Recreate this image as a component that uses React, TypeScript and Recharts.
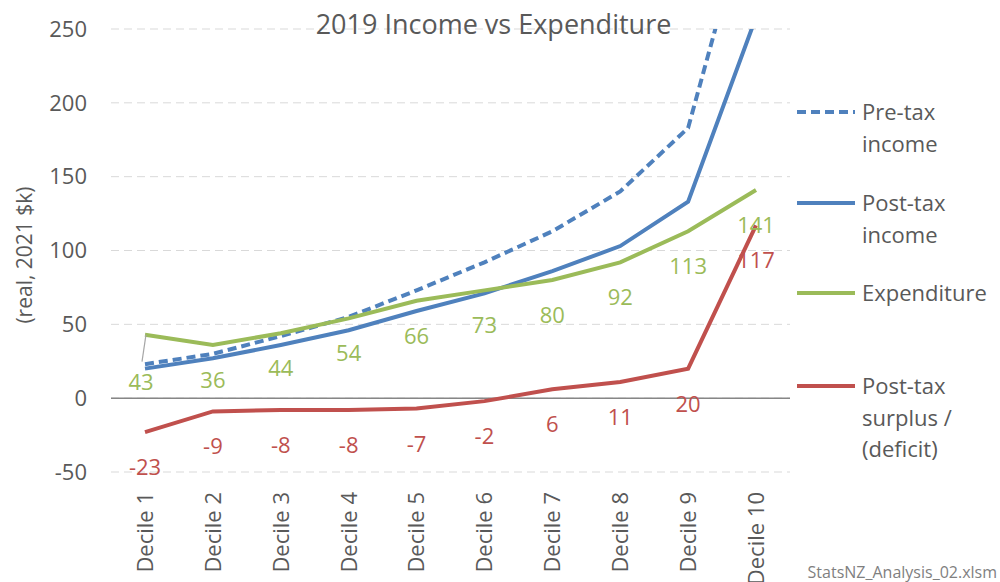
import React from 'react';
import { LineChart, Line, XAxis, YAxis, CartesianGrid, ReferenceLine, LabelList } from 'recharts';

const deciles = ['Decile 1', 'Decile 2', 'Decile 3', 'Decile 4', 'Decile 5', 'Decile 6', 'Decile 7', 'Decile 8', 'Decile 9', 'Decile 10'];
const preTaxIncome = [23, 30, 42, 55, 73, 92, 113, 140, 183, 350];
const postTaxIncome = [20, 27, 36, 46, 59, 71, 86, 103, 133, 258];
const expenditure = [43, 36, 44, 54, 66, 73, 80, 92, 113, 141];
const surplus = [-23, -9, -8, -8, -7, -2, 6, 11, 20, 117];
const yTicks = [-50, 0, 50, 100, 150, 200, 250];

const BLUE = '#4F81BD';
const GREEN = '#9BBB59';
const RED = '#C0504D';
const TEXT = '#595959';
const FONT = '"Open Sans", "Noto Sans", sans-serif';

const data = deciles.map((d, i) => ({
    decile: d,
    preTax: preTaxIncome[i],
    postTax: postTaxIncome[i],
    expenditure: expenditure[i],
    surplus: surplus[i],
}));

const XTick = (props: any) => {
    const { x, y, payload } = props;
    return (
        <text
            transform={`translate(${x},${y + 20}) rotate(-90)`}
            textAnchor="end"
            dy="0.36em"
            fill={TEXT}
            fontSize={22}
            fontFamily={FONT}
        >
            {payload.value}
        </text>
    );
};

const makeLabel = (color: string, leaderFirst: boolean) => (props: any) => {
    const { x, y, value, index } = props;
    const moved = leaderFirst && index === 0;
    return (
        <g>
            {moved && <line x1={x - 3} y1={y + 27} x2={x + 1} y2={y} stroke="#A6A6A6" strokeWidth={1.2} />}
            <text
                x={moved ? x - 4 : x}
                y={y + (moved ? 46 : 34)}
                textAnchor="middle"
                dominantBaseline="central"
                fill={color}
                fontSize={22}
                fontFamily={FONT}
            >
                {value}
            </text>
        </g>
    );
};

const legendItems = [
    { lines: ['Pre-tax', 'income'], color: BLUE, dashed: true, top: 112 },
    { lines: ['Post-tax', 'income'], color: BLUE, dashed: false, top: 203 },
    { lines: ['Expenditure'], color: GREEN, dashed: false, top: 293 },
    { lines: ['Post-tax', 'surplus /', '(deficit)'], color: RED, dashed: false, top: 386 },
];

export default function App() {
    return (
        <div style={{ position: 'absolute', left: 0, top: 0, width: 1000, height: 582, background: '#fff', fontFamily: FONT, overflow: 'hidden' }}>
            <LineChart width={1000} height={582} data={data} margin={{ top: 29, right: 210, bottom: 10, left: 0 }}>
                <CartesianGrid vertical={false} stroke="#D9D9D9" strokeDasharray="8 5" />
                <XAxis
                    dataKey="decile"
                    height={100}
                    axisLine={false}
                    tickLine={false}
                    tickSize={0}
                    tickMargin={0}
                    interval={0}
                    padding={{ left: 34, right: 34 }}
                    tick={<XTick />}
                />
                <YAxis
                    width={111}
                    domain={[-50, 250]}
                    ticks={yTicks}
                    allowDataOverflow
                    axisLine={false}
                    tickLine={false}
                    tickSize={0}
                    tickMargin={24}
                    tick={{ fill: TEXT, fontSize: 22, fontFamily: FONT }}
                />
                <ReferenceLine y={0} stroke="#868686" strokeWidth={1.5} />
                <Line type="linear" dataKey="preTax" stroke={BLUE} strokeWidth={4} strokeDasharray="9 5" dot={false} isAnimationActive={false} />
                <Line type="linear" dataKey="postTax" stroke={BLUE} strokeWidth={4} dot={false} isAnimationActive={false} />
                <Line type="linear" dataKey="expenditure" stroke={GREEN} strokeWidth={4} dot={false} isAnimationActive={false}>
                    <LabelList dataKey="expenditure" content={makeLabel(GREEN, true)} />
                </Line>
                <Line type="linear" dataKey="surplus" stroke={RED} strokeWidth={4} dot={false} isAnimationActive={false}>
                    <LabelList dataKey="surplus" content={makeLabel(RED, false)} />
                </Line>
            </LineChart>

            <div style={{ position: 'absolute', left: 0, width: 987, top: 5, textAlign: 'center', fontSize: 27, color: TEXT, lineHeight: '38px' }}>
                2019 Income vs Expenditure
            </div>

            <div style={{ position: 'absolute', left: 24, top: 255, transform: 'translate(-50%, -50%) rotate(-90deg)', whiteSpace: 'nowrap', fontSize: 21, color: TEXT }}>
                (real, 2021 $k)
            </div>

            {legendItems.map((item) => (
                <div key={item.lines.join('')} style={{ position: 'absolute', left: 797, top: item.top - 16, display: 'flex', alignItems: 'flex-start' }}>
                    <svg width={60} height={32} style={{ display: 'block' }}>
                        <line x1={0} y1={16} x2={58} y2={16} stroke={item.color} strokeWidth={4} strokeDasharray={item.dashed ? '9 5' : undefined} />
                    </svg>
                    <div style={{ marginLeft: 5, fontSize: 22, color: TEXT, lineHeight: '31.5px' }}>
                        {item.lines.map((l) => (
                            <div key={l}>{l}</div>
                        ))}
                    </div>
                </div>
            ))}

            <div style={{ position: 'absolute', right: 3, top: 561, fontSize: 16, color: '#7F7F7F' }}>
                StatsNZ_Analysis_02.xlsm
            </div>
        </div>
    );
}
